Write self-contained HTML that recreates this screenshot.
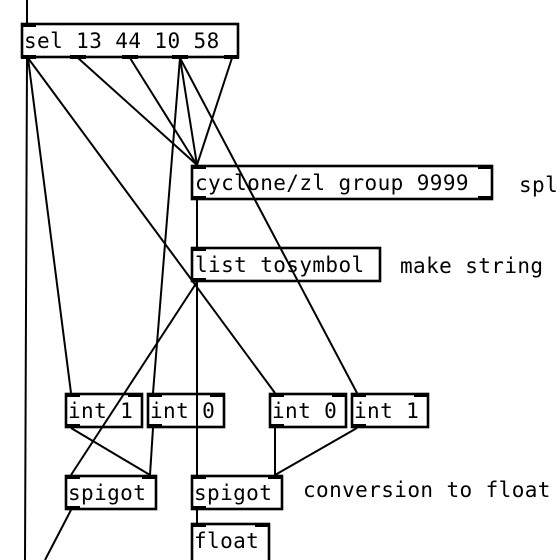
<!DOCTYPE html>
<html><head><style>
html,body{margin:0;padding:0;background:#fff;width:560px;height:560px;overflow:hidden}
svg text{font-family:"DejaVu Sans Mono","Liberation Mono",monospace;font-size:21px;letter-spacing:0.4px;fill:#000}
</style></head><body>
<svg width="560" height="560" viewBox="0 0 560 560" xmlns="http://www.w3.org/2000/svg">
<g stroke="#000" stroke-width="2" fill="none">
<line x1="27" y1="0" x2="27" y2="23"/>
<line x1="27" y1="58" x2="25" y2="560"/>
<line x1="28" y1="58" x2="71" y2="393"/>
<line x1="28" y1="58" x2="275" y2="393"/>
<line x1="78" y1="58" x2="197" y2="165"/>
<line x1="130" y1="58" x2="197" y2="165"/>
<line x1="180" y1="58" x2="197" y2="165"/>
<line x1="180" y1="58" x2="153" y2="393"/>
<line x1="180" y1="58" x2="357" y2="393"/>
<line x1="232" y1="58" x2="197" y2="165"/>
<line x1="197" y1="200" x2="197" y2="247"/>
<line x1="197" y1="282" x2="197" y2="475"/>
<line x1="197" y1="282" x2="71" y2="475"/>
<line x1="71" y1="428" x2="150" y2="475"/>
<line x1="153" y1="428" x2="150" y2="475"/>
<line x1="275" y1="428" x2="275" y2="475"/>
<line x1="357" y1="428" x2="275" y2="475"/>
<line x1="71" y1="510" x2="45" y2="560"/>
<line x1="197" y1="510" x2="197" y2="523"/>
</g>
<g stroke="#000" stroke-width="2.6" fill="none">
<rect x="22" y="24" width="216" height="33"/>
<rect x="192" y="166" width="300" height="33"/>
<rect x="192" y="248" width="188" height="33"/>
<rect x="66" y="394" width="76" height="33"/>
<rect x="148" y="394" width="76" height="33"/>
<rect x="270" y="394" width="76" height="33"/>
<rect x="352" y="394" width="76" height="33"/>
<rect x="66" y="476" width="90" height="33"/>
<rect x="192" y="476" width="90" height="33"/>
<rect x="192" y="524" width="77" height="40"/>
</g>
<g fill="#000">
<rect x="21" y="23" width="15" height="4"/>
<rect x="21" y="55" width="15" height="4"/><rect x="70" y="55" width="16" height="4"/><rect x="122" y="55" width="16" height="4"/><rect x="172" y="55" width="16" height="4"/><rect x="224" y="55" width="15" height="4"/>
<rect x="191" y="165" width="15" height="4"/><rect x="478" y="165" width="15" height="4"/>
<rect x="191" y="196" width="15" height="4"/><rect x="478" y="196" width="15" height="4"/>
<rect x="191" y="247" width="15" height="4"/><rect x="191" y="278" width="15" height="4"/>
<rect x="65" y="393" width="15" height="4"/><rect x="128" y="393" width="15" height="4"/><rect x="65" y="424" width="15" height="4"/>
<rect x="147" y="393" width="15" height="4"/><rect x="210" y="393" width="15" height="4"/><rect x="147" y="424" width="15" height="4"/>
<rect x="269" y="393" width="15" height="4"/><rect x="332" y="393" width="15" height="4"/><rect x="269" y="424" width="15" height="4"/>
<rect x="351" y="393" width="15" height="4"/><rect x="414" y="393" width="15" height="4"/><rect x="351" y="424" width="15" height="4"/>
<rect x="65" y="475" width="15" height="4"/><rect x="142" y="475" width="15" height="4"/><rect x="65" y="506" width="15" height="4"/>
<rect x="191" y="475" width="15" height="4"/><rect x="268" y="475" width="15" height="4"/><rect x="191" y="506" width="15" height="4"/>
<rect x="191" y="523" width="15" height="4"/><rect x="255" y="523" width="15" height="4"/>
</g>
<text x="24" y="48">sel 13 44 10 58</text>
<text x="195" y="190">cyclone/zl group 9999</text>
<text x="519" y="192">split list</text>
<text x="195" y="272">list tosymbol</text>
<text x="400" y="273">make string</text>
<text x="68" y="418">int 1</text>
<text x="150" y="418">int 0</text>
<text x="272" y="418">int 0</text>
<text x="354" y="418">int 1</text>
<text x="68" y="500">spigot</text>
<text x="194" y="500">spigot</text>
<text x="303" y="497">conversion to float</text>
<text x="194" y="548">float</text>
</svg>
</body></html>
